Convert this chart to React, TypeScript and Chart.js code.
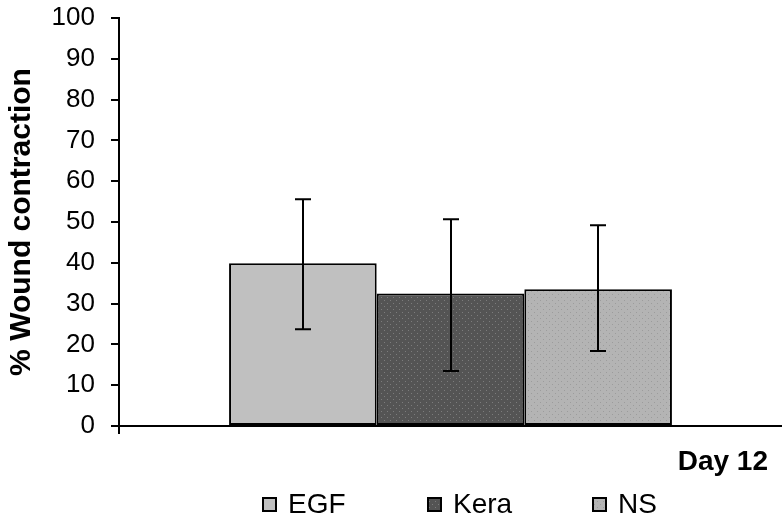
import React, { useEffect, useRef } from 'react';
import { Chart, registerables } from 'chart.js';

Chart.register(...registerables);

// ---- Data ----
const categories = ['Day 12'];
const seriesNames = ['EGF', 'Kera', 'NS'];
const meanValues = [39.9, 32.5, 33.5];
const errorUpper = [55.6, 50.7, 49.2];
const errorLower = [23.7, 13.5, 18.4];
const yMin = 0;
const yMax = 100;
const yStep = 10;
const yAxisTitle = '% Wound contraction';

const FONT = "'Liberation Sans', Arial, Helvetica, sans-serif";

function makeDotPattern(base: string, dot: string | null, step: number) {
  const c = document.createElement('canvas');
  c.width = step;
  c.height = step;
  const g = c.getContext('2d')!;
  g.fillStyle = base;
  g.fillRect(0, 0, step, step);
  if (dot) {
    g.fillStyle = dot;
    g.fillRect(0, 0, 1, 1);
    g.fillRect(step / 2, step / 2, 1, 1);
  }
  return g.createPattern(c, 'repeat') as CanvasPattern;
}

const errorBarPlugin = {
  id: 'errorBars',
  afterDatasetsDraw(chart: any) {
    const ctx = chart.ctx;
    const yScale = chart.scales.y;
    ctx.save();
    ctx.strokeStyle = '#000';
    ctx.lineWidth = 2;
    chart.data.datasets.forEach((ds: any, i: number) => {
      const meta = chart.getDatasetMeta(i);
      meta.data.forEach((bar: any, j: number) => {
        const x = Math.round(bar.x);
        const hi = yScale.getPixelForValue(ds.errHigh[j]);
        const lo = yScale.getPixelForValue(ds.errLow[j]);
        const cap = 8;
        ctx.beginPath();
        ctx.moveTo(x, hi);
        ctx.lineTo(x, lo);
        ctx.moveTo(x - cap, hi);
        ctx.lineTo(x + cap, hi);
        ctx.moveTo(x - cap, lo);
        ctx.lineTo(x + cap, lo);
        ctx.stroke();
      });
    });
    ctx.restore();
  },
};

const legendPlugin = {
  id: 'customLegend',
  afterDraw(chart: any) {
    const ctx = chart.ctx;
    const area = chart.chartArea;
    const step = 165;
    const startX = area.left + 143;
    const boxY = 497;
    const box = 15;
    ctx.save();
    ctx.font = `28px ${FONT}`;
    ctx.textBaseline = 'alphabetic';
    ctx.textAlign = 'left';
    chart.data.datasets.forEach((ds: any, i: number) => {
      const bx = startX + i * step;
      ctx.fillStyle = ds.backgroundColor;
      ctx.fillRect(bx, boxY, box, box);
      ctx.strokeStyle = '#000';
      ctx.lineWidth = 2;
      ctx.strokeRect(bx + 1, boxY + 1, box - 2, box - 2);
      ctx.fillStyle = '#000';
      ctx.fillText(ds.label, bx + 26, 513);
    });
    ctx.restore();
  },
};

export default function App() {
  const canvasRef = useRef<HTMLCanvasElement | null>(null);

  useEffect(() => {
    document.body.style.margin = '0';
    document.body.style.overflow = 'hidden';
    const canvas = canvasRef.current!;
    const fills = [
      makeDotPattern('#c0c0c0', null, 6),
      makeDotPattern('#545454', '#7c7c7c', 6),
      makeDotPattern('#b4b4b4', '#9c9c9c', 6),
    ];
    const datasets = seriesNames.map((name, i) => ({
      label: name,
      data: [meanValues[i]],
      errHigh: [errorUpper[i]],
      errLow: [errorLower[i]],
      backgroundColor: fills[i],
      borderColor: '#000',
      borderWidth: 2,
      borderSkipped: false,
      barPercentage: 1.0,
      categoryPercentage: 0.668,
    }));

    const chart = new Chart(canvas, {
      type: 'bar',
      data: { labels: categories, datasets: datasets as any },
      plugins: [errorBarPlugin, legendPlugin],
      options: {
        animation: false,
        responsive: false,
        devicePixelRatio: 1,
        layout: { padding: { top: 18, right: 0, bottom: 0, left: 0 } },
        plugins: {
          legend: { display: false },
          tooltip: { enabled: false },
        },
        scales: {
          x: {
            offset: true,
            border: { display: true, color: '#000', width: 2 },
            grid: {
              display: true,
              drawOnChartArea: false,
              drawTicks: true,
              tickLength: 8,
              lineWidth: 2,
              color: (c: any) => (c.index === 0 ? '#000' : 'rgba(0,0,0,0)'),
            },
            ticks: { display: false },
            title: {
              display: true,
              text: categories[0] + '\u2002',
              align: 'end',
              color: '#000',
              font: { family: FONT, size: 28, weight: 'bold' },
              padding: { top: 0, bottom: 42 },
            },
            afterFit: (scale: any) => {
              scale.height = 95;
              scale.paddingLeft = 0;
              scale.paddingRight = 0;
            },
          },
          y: {
            min: yMin,
            max: yMax,
            border: { display: true, color: '#000', width: 2 },
            grid: {
              display: true,
              drawOnChartArea: false,
              drawTicks: true,
              tickLength: 8,
              lineWidth: 2,
              color: '#000',
            },
            ticks: {
              stepSize: yStep,
              color: '#000',
              padding: 16,
              font: { family: FONT, size: 26 },
            },
            title: {
              display: true,
              text: yAxisTitle,
              color: '#000',
              font: { family: FONT, size: 30, weight: 'bold' },
              padding: { top: 4, bottom: 0 },
            },
            afterFit: (scale: any) => {
              scale.width = 119;
              scale.paddingTop = 0;
              scale.paddingBottom = 0;
            },
          },
        },
      },
    });
    return () => chart.destroy();
  }, []);

  return (
    <div style={{ width: 782, height: 521, background: '#fff' }}>
      <canvas ref={canvasRef} width={782} height={521} style={{ display: 'block' }} />
    </div>
  );
}
